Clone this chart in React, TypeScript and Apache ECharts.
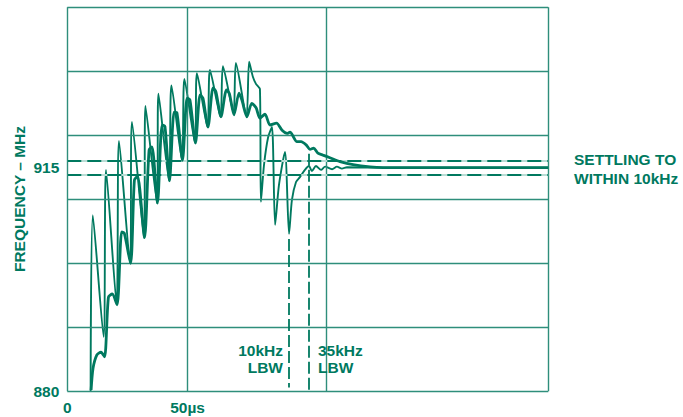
import React, { useEffect, useRef } from "react";
import * as echarts from "echarts";

// Time (µs) and frequency (MHz) samples
const thinTime = [9.7, 10.6, 15.1, 16.1, 20.5, 21.5, 26.1, 26.9, 31.9, 32.5, 37.3, 37.9, 42.3, 43.3, 47.7, 48.7, 53.1, 53.9, 58.3, 59.3, 63.7, 64.7, 69.1, 70.1, 74.5, 75.6, 77.2, 78.5, 80.1, 80.5, 81.8, 83.5, 85.1, 86.4, 88.0, 90.5, 92.2, 93.4, 95.1, 96.8, 98.8, 100.5, 101.7, 103.4, 105.5, 107.2, 110.1, 112.1, 114.2, 116.3, 131.3, 200];
const thinFreq = [880.0, 907.5, 888.5, 914.6, 893.6, 919.1, 900.0, 922.1, 904.0, 924.6, 909.4, 926.5, 912.9, 927.8, 916.1, 928.8, 918.8, 929.7, 921.3, 930.2, 922.9, 930.8, 923.6, 931.3, 923.0, 931.5, 929.1, 928.0, 927.2, 909.6, 915.4, 919.7, 921.3, 906.0, 912.2, 917.4, 904.6, 909.9, 912.7, 913.5, 914.6, 915.2, 914.4, 915.2, 914.6, 915.1, 914.7, 915.1, 914.8, 915.0, 914.95, 914.95];

const thickTime = [9.9, 10.7, 12.3, 14.0, 15.5, 17.1, 18.7, 20.7, 22.6, 23.7, 26.3, 27.9, 29.2, 32.1, 34.0, 35.2, 37.5, 39.4, 40.6, 42.5, 44.4, 45.6, 47.9, 49.8, 51.0, 53.3, 55.2, 56.4, 58.5, 60.6, 61.8, 63.9, 66.2, 67.4, 69.3, 71.4, 72.6, 74.7, 76.7, 78.5, 80.1, 82.2, 84.3, 87.0, 89.3, 91.4, 92.6, 95.5, 97.2, 99.3, 100.9, 102.4, 104.2, 106.3, 109.2, 113.4, 118.8, 125.9, 131.3, 200];
const thickFreq = [880.2, 883.6, 885.7, 886.1, 885.4, 894.7, 895.2, 893.5, 904.9, 904.7, 900.0, 913.0, 913.6, 904.0, 917.7, 918.2, 909.4, 921.6, 921.4, 912.9, 923.6, 923.5, 916.1, 925.8, 925.5, 918.8, 926.3, 925.8, 921.3, 927.4, 926.8, 922.9, 927.1, 926.5, 923.2, 926.6, 925.5, 922.9, 925.0, 924.3, 922.7, 923.3, 921.6, 921.9, 920.8, 920.3, 920.5, 919.0, 919.0, 918.5, 917.8, 918.0, 917.2, 916.9, 916.5, 915.9, 915.4, 915.05, 914.95, 914.95];

// Grid lines
const gridTimes = [0, 50, 107.6, 200];
const gridFreqs = [880, 890, 900, 910, 920, 930, 940];

// Settling band (±10kHz, drawn to scale of figure)
const bandFreqs = [916.1, 913.85];

// LBW markers: [time, top freq, bottom freq]
const lbw10k = [91.9, 903.8, 880.6];
const lbw35k = [100.6, 917.1, 880];

const xLabels: Record<number, string> = { 0: "0", 50: "50µs" };
const yLabels = [880, 915];

const TEAL = "#00795F";
const GRID = "#2E8E7B";
const FONT = '"Liberation Sans", Arial, Helvetica, sans-serif';

export default function App() {
  const ref = useRef<HTMLDivElement>(null);
  useEffect(() => {
    if (!ref.current) return;
    const chart = echarts.init(ref.current, undefined, { renderer: "svg" });
    const thin = thinTime.map((t, i) => [t, thinFreq[i]]);
    const thick = thickTime.map((t, i) => [t, thickFreq[i]]);
    const textStyle = (text: string, x: number, y: number, align: string) => ({
      type: "text",
      x,
      y,
      z: 10,
      style: {
        text,
        fill: TEAL,
        font: `bold 15.5px ${FONT}`,
        align,
        verticalAlign: "middle",
      },
    });
    const option: any = {
      animation: false,
      grid: { left: 67.3, top: 7.3, right: 134.7, bottom: 25.7, containLabel: false },
      xAxis: {
        type: "value",
        min: 0,
        max: 200,
        interval: 50,
        axisLine: { show: false },
        axisTick: { show: false },
        splitLine: { show: false },
        axisLabel: {
          formatter: (v: number) => xLabels[v] ?? "",
          color: TEAL,
          fontSize: 15.5,
          fontWeight: "bold",
          fontFamily: FONT,
          margin: 8,
        },
      },
      yAxis: {
        type: "value",
        min: 880,
        max: 940,
        interval: 5,
        axisLine: { show: false },
        axisTick: { show: false },
        splitLine: { show: false },
        axisLabel: {
          formatter: (v: number) => (yLabels.includes(v) ? String(v) : ""),
          color: TEAL,
          fontSize: 15.5,
          fontWeight: "bold",
          fontFamily: FONT,
          margin: 8,
        },
      },
      series: [
        {
          type: "line",
          data: [],
          z: 1,
          silent: true,
          markLine: {
            silent: true,
            symbol: ["none", "none"],
            label: { show: false },
            emphasis: { disabled: true },
            lineStyle: { color: GRID, width: 1.4, type: "solid" },
            data: [
              ...gridTimes.map((t) => ({ xAxis: t })),
              ...gridFreqs.map((f) => ({ yAxis: f })),
            ],
          },
        },
        {
          type: "line",
          data: [],
          z: 2,
          silent: true,
          markLine: {
            silent: true,
            symbol: ["none", "none"],
            label: { show: false },
            emphasis: { disabled: true },
            lineStyle: { color: "#B9DDD5", width: 2, type: "solid" },
            data: bandFreqs.map((f) => ({ yAxis: f })),
          },
        },
        {
          type: "line",
          data: [],
          z: 3,
          silent: true,
          markLine: {
            silent: true,
            symbol: ["none", "none"],
            label: { show: false },
            emphasis: { disabled: true },
            lineStyle: { color: TEAL, width: 2, type: [14, 6] },
            data: bandFreqs.map((f) => ({ yAxis: f })),
          },
        },
        {
          type: "line",
          data: [],
          z: 3,
          silent: true,
          markLine: {
            silent: true,
            symbol: ["none", "none"],
            label: { show: false },
            emphasis: { disabled: true },
            lineStyle: { color: TEAL, width: 1.8, type: [12, 4] },
            data: [
              [{ coord: [lbw10k[0], lbw10k[1]] }, { coord: [lbw10k[0], lbw10k[2]] }],
              [{ coord: [lbw35k[0], lbw35k[1]] }, { coord: [lbw35k[0], lbw35k[2]] }],
            ],
          },
        },
        {
          type: "line",
          data: thin,
          z: 4,
          showSymbol: false,
          smooth: 0.25,
          silent: true,
          lineStyle: { color: TEAL, width: 1.9 },
        },
        {
          type: "line",
          data: thick,
          z: 5,
          showSymbol: false,
          smooth: 0.25,
          silent: true,
          lineStyle: { color: TEAL, width: 2.8 },
        },
      ],
      graphic: [
        {
          type: "text",
          x: 19,
          y: 199,
          rotation: Math.PI / 2,
          style: {
            text: "FREQUENCY – MHz",
            fill: TEAL,
            font: `bold 15.5px ${FONT}`,
            align: "center",
            verticalAlign: "middle",
          },
        },
        textStyle("SETTLING TO", 574, 159, "left"),
        textStyle("WITHIN 10kHz", 574, 178, "left"),
        textStyle("10kHz", 283, 350, "right"),
        textStyle("LBW", 283, 367, "right"),
        {
          type: "rect",
          z: 5,
          shape: { x: 316, y: 339, width: 50, height: 38 },
          style: { fill: "#ffffff" },
        },
        textStyle("35kHz", 318, 350, "left"),
        textStyle("LBW", 318, 367, "left"),
      ],
    };
    chart.setOption(option);
    return () => chart.dispose();
  }, []);
  return (
    <div
      ref={ref}
      style={{ position: "fixed", left: 0, top: 0, width: 683, height: 417, background: "#fff" }}
    />
  );
}
